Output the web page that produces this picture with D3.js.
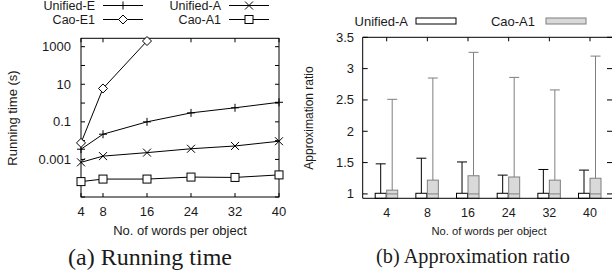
<!DOCTYPE html>
<html>
<head>
<meta charset="utf-8">
<script src="https://cdn.jsdelivr.net/npm/d3@7"></script>
<style>
  body { margin: 0; background: white; }
  svg text { fill: #1a1a1a; }
</style>
</head>
<body>
<div id="chart"></div>
<script>
// Data
const words = [4, 8, 16, 24, 32, 40];
const unifiedE = [0.0035, 0.022, 0.1, 0.30, 0.56, 1.1];
const caoE1 = [0.0076, 6, 2000];          // only up to 16 words
const unifiedA = [0.0007, 0.0015, 0.0023, 0.0037, 0.0052, 0.0093];
const caoA1 = [6.6e-5, 9e-5, 9e-5, 1.15e-4, 1.1e-4, 1.5e-4];
const logTicks = [1e-5, 1e-4, 1e-3, 1e-2, 0.1, 1, 10, 100, 1000];
const logLabels = { "1e-05": "1e-05", "0.001": "0.001", "0.1": "0.1", "10": "10", "1000": "1000" };

// approximation ratio: box top and whisker max
const ratioCats = ["4", "8", "16", "24", "32", "40"];
const unifiedABox = [1.01, 1.01, 1.01, 1.01, 1.01, 1.01];
const unifiedAMax = [1.48, 1.57, 1.51, 1.30, 1.39, 1.38];
const caoA1Box = [1.06, 1.22, 1.29, 1.27, 1.22, 1.25];
const caoA1Max = [2.51, 2.85, 3.26, 2.86, 2.66, 3.20];
const caoA1Median = [1, 1, 1, 1, 1, 1];
const ratioTicks = [1, 1.5, 2, 2.5, 3, 3.5];

const width = 612, height = 271;
const sans = "'Liberation Sans', Arial, Helvetica, sans-serif";
const serif = "'Liberation Serif', 'Times New Roman', serif";

const svg = d3.select("#chart").append("svg")
  .attr("width", width).attr("height", height);

function label(g, x, y, txt, size, anchor, fam) {
  return g.append("text").attr("x", x).attr("y", y).attr("dy", "0.35em")
    .attr("text-anchor", anchor).attr("font-family", fam || sans)
    .attr("font-size", size).text(txt);
}

// ---------- (a) running time ----------
const xA = d3.scaleLinear().domain([4, 40]).range([81, 279]);
const yA = d3.scaleLog().domain([1e-5, 2800]).range([197, 38.3]);

const gA = svg.append("g");

// ticks (inward, mirrored)
words.forEach(w => {
  gA.append("line").attr("x1", xA(w)).attr("x2", xA(w)).attr("y1", yA.range()[0]).attr("y2", yA.range()[0] - 4).attr("stroke", "#000");
  gA.append("line").attr("x1", xA(w)).attr("x2", xA(w)).attr("y1", yA.range()[1]).attr("y2", yA.range()[1] + 4).attr("stroke", "#000");
  label(gA, xA(w), 211, w, 13, "middle");
});
logTicks.forEach(t => {
  gA.append("line").attr("x1", xA(4)).attr("x2", xA(4) + 4).attr("y1", yA(t)).attr("y2", yA(t)).attr("stroke", "#000");
  gA.append("line").attr("x1", xA(40)).attr("x2", xA(40) - 4).attr("y1", yA(t)).attr("y2", yA(t)).attr("stroke", "#000");
  const lab = logLabels[String(t)];
  if (lab) label(gA, 71, yA(t), lab, 13, "end");
});

gA.append("rect").attr("x", xA(4)).attr("y", yA.range()[1])
  .attr("width", xA(40) - xA(4)).attr("height", yA.range()[0] - yA.range()[1])
  .attr("fill", "none").attr("stroke", "#000");

const line = d3.line().x((d, i) => xA(words[i])).y(d => yA(d));

function marker(g, kind, x, y) {
  const s = 4;
  if (kind === "plus") {
    g.append("path").attr("d", `M${x - s},${y}H${x + s}M${x},${y - s}V${y + s}`).attr("stroke", "#000").attr("fill", "none");
  } else if (kind === "cross") {
    g.append("path").attr("d", `M${x - s},${y - s}L${x + s},${y + s}M${x - s},${y + s}L${x + s},${y - s}`).attr("stroke", "#000").attr("fill", "none");
  } else if (kind === "diamond") {
    g.append("path").attr("d", `M${x},${y - 4.5}L${x + 4.5},${y}L${x},${y + 4.5}L${x - 4.5},${y}Z`).attr("stroke", "#000").attr("fill", "white");
  } else if (kind === "square") {
    g.append("rect").attr("x", x - 4).attr("y", y - 4).attr("width", 8).attr("height", 8).attr("stroke", "#000").attr("fill", "white");
  }
}

const seriesA = [
  { name: "Unified-E", values: unifiedE, kind: "plus" },
  { name: "Cao-E1", values: caoE1, kind: "diamond" },
  { name: "Unified-A", values: unifiedA, kind: "cross" },
  { name: "Cao-A1", values: caoA1, kind: "square" }
];
seriesA.forEach(s => {
  gA.append("path").datum(s.values).attr("d", line).attr("fill", "none").attr("stroke", "#000");
  s.values.forEach((v, i) => marker(gA, s.kind, xA(words[i]), yA(v)));
});

// legend (a)
const legA = [
  { s: seriesA[0], tx: 95, lx: 103, y: 5.5 },
  { s: seriesA[1], tx: 95, lx: 103, y: 19.5 },
  { s: seriesA[2], tx: 221, lx: 229, y: 5.5 },
  { s: seriesA[3], tx: 221, lx: 229, y: 19.5 }
];
legA.forEach(l => {
  label(gA, l.tx, l.y, l.s.name, 12.5, "end");
  gA.append("line").attr("x1", l.lx).attr("x2", l.lx + 40).attr("y1", l.y).attr("y2", l.y).attr("stroke", "#000");
  marker(gA, l.s.kind, l.lx + 20, l.y);
});

gA.append("text").attr("transform", "translate(12,118) rotate(-90)")
  .attr("text-anchor", "middle").attr("dy", "0.35em")
  .attr("font-family", sans).attr("font-size", 13).text("Running time (s)");
label(gA, 180, 230, "No. of words per object", 13, "middle");
label(gA, 150, 257, "(a) Running time", 24, "middle", serif);

// ---------- (b) approximation ratio ----------
const xB = d3.scaleLinear().domain([-0.59, 5.59]).range([362.7, 614]);
const yB = d3.scaleLinear().domain([0.93, 3.5]).range([198.3, 37.3]);
const gB = svg.append("g");
const gray = "#7f7f7f";

ratioTicks.forEach(t => {
  gB.append("line").attr("x1", 362.7).attr("x2", 367.7).attr("y1", yB(t)).attr("y2", yB(t)).attr("stroke", "#000");
  gB.append("line").attr("x1", 614).attr("x2", 607).attr("y1", yB(t)).attr("y2", yB(t)).attr("stroke", "#000");
  label(gB, 354, yB(t), t, 13, "end");
});
ratioCats.forEach((c, i) => {
  gB.append("line").attr("x1", xB(i)).attr("x2", xB(i)).attr("y1", yB.range()[1]).attr("y2", yB.range()[1] + 4).attr("stroke", "#000");
  label(gB, xB(i), 212.5, c, 12.5, "middle");
});

ratioCats.forEach((c, i) => {
  const cx = xB(i);
  const y0 = yB.range()[0];
  // Unified-A
  const ux = cx - 6;
  gB.append("line").attr("x1", ux).attr("x2", ux).attr("y1", yB(unifiedABox[i])).attr("y2", yB(unifiedAMax[i])).attr("stroke", "#000");
  gB.append("line").attr("x1", ux - 5).attr("x2", ux + 5).attr("y1", yB(unifiedAMax[i])).attr("y2", yB(unifiedAMax[i])).attr("stroke", "#000");
  gB.append("rect").attr("x", cx - 11.5).attr("y", yB(unifiedABox[i])).attr("width", 11).attr("height", y0 - yB(unifiedABox[i]))
    .attr("fill", "white").attr("stroke", "#000");
  // Cao-A1
  const kx = cx + 5.5;
  gB.append("line").attr("x1", kx).attr("x2", kx).attr("y1", yB(caoA1Box[i])).attr("y2", yB(caoA1Max[i])).attr("stroke", gray);
  gB.append("line").attr("x1", kx - 5).attr("x2", kx + 5).attr("y1", yB(caoA1Max[i])).attr("y2", yB(caoA1Max[i])).attr("stroke", gray);
  gB.append("rect").attr("x", cx).attr("y", yB(caoA1Box[i])).attr("width", 11).attr("height", y0 - yB(caoA1Box[i]))
    .attr("fill", "#d9d9d9").attr("stroke", gray);
  gB.append("line").attr("x1", cx).attr("x2", cx + 11).attr("y1", yB(caoA1Median[i])).attr("y2", yB(caoA1Median[i])).attr("stroke", gray);
});

// frame
gB.append("path").attr("d", `M614,${yB.range()[1]}H362.7V${yB.range()[0]}H614V${yB.range()[1]}`)
  .attr("fill", "none").attr("stroke", "#000");

// legend (b)
const legB = [
  { name: "Unified-A", tx: 408, bx: 416, fill: "white", stroke: "#000" },
  { name: "Cao-A1", tx: 535, bx: 546, fill: "#d9d9d9", stroke: gray }
];
legB.forEach(l => {
  label(gB, l.tx, 21, l.name, 13, "end");
  gB.append("rect").attr("x", l.bx).attr("y", 18).attr("width", 40).attr("height", 6)
    .attr("fill", l.fill).attr("stroke", l.stroke);
});

gB.append("text").attr("transform", "translate(309,118) rotate(-90)")
  .attr("text-anchor", "middle").attr("dy", "0.35em")
  .attr("font-family", sans).attr("font-size", 12).text("Approximation ratio");
label(gB, 489, 231, "No. of words per object", 11.2, "middle");
label(gB, 473, 256, "(b) Approximation ratio", 20.3, "middle", serif);
</script>
</body>
</html>
